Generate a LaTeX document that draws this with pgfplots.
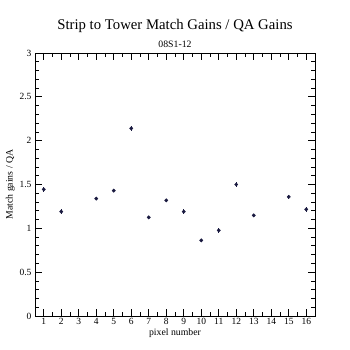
\documentclass[border=0pt]{standalone}
\usepackage{pgfplots}
\pgfplotsset{compat=1.18}
\usepackage{fontspec}
\setmainfont{Liberation Serif}
\definecolor{pt}{HTML}{1A1A40}
\begin{document}
\begin{tikzpicture}
\begin{axis}[name=ax,
  scale only axis, width=280bp, height=263bp,
  xmin=0.5, xmax=16.5, ymin=0, ymax=3,
  xtick={1,...,16}, minor x tick num=1,
  ytick={0,0.5,1,1.5,2,2.5,3}, minor y tick num=4,
  tick align=inside, major tick length=7bp, minor tick length=4bp,
  tick style={black, line width=0.8pt},
  axis line style={line width=0.8pt},
  /pgf/number format/assume math mode=true,
  tick label style={font=\fontsize{9.5}{10}\selectfont},
  xticklabel style={yshift=1bp},
  xlabel={pixel number}, ylabel={Match gains / QA},
  label style={font=\fontsize{9.8}{10}\selectfont},
  xlabel style={yshift=3bp},
  ylabel style={yshift=-2bp},
  title={\fontsize{14.8}{16}\selectfont Strip to Tower Match Gains / QA Gains\\[6bp]\fontsize{9.8}{10}\selectfont 08S1-12},
  title style={align=center, yshift=-4bp},
]
\addplot[only marks, mark=*, mark size=1.7bp, color=pt,
  error bars/.cd, y dir=both, y explicit, error mark=none,
  error bar style={line width=1.1pt, color=pt}]
  table[x=x, y=y, y error=e] {
x y e
1 1.445 0.025
2 1.19 0.025
4 1.34 0.02
5 1.43 0.02
6 2.14 0.03
7 1.125 0.02
8 1.32 0.02
9 1.19 0.025
10 0.863 0.02
11 0.977 0.03
12 1.50 0.03
13 1.148 0.02
15 1.36 0.025
16 1.217 0.025
};
\end{axis}
\path (ax.south west)++(-35bp,-34bp) (ax.north east)++(35bp,53bp);
\end{tikzpicture}
\end{document}
